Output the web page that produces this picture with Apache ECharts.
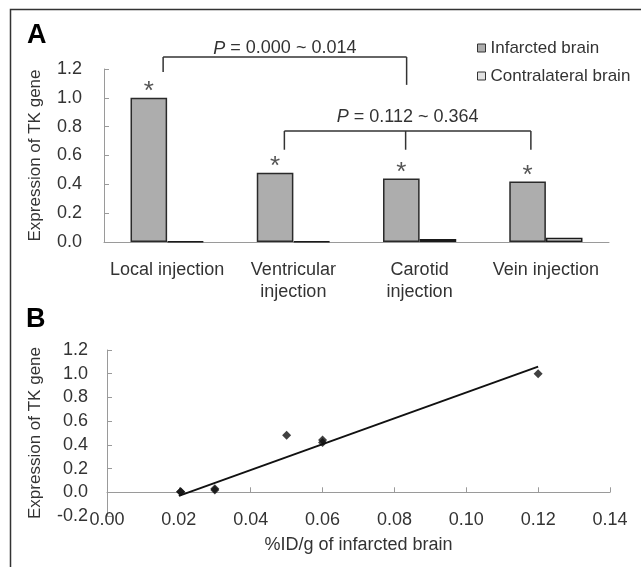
<!DOCTYPE html>
<html>
<head>
<meta charset="utf-8">
<script src="https://cdn.jsdelivr.net/npm/echarts@6/dist/echarts.min.js"></script>
<style>
html,body{margin:0;padding:0;background:#fff;}
#c{width:641px;height:567px;}
</style>
</head>
<body>
<div id="c"></div>
<script>
// ---- data ----
const categories = ['Local injection', 'Ventricular\ninjection', 'Carotid\ninjection', 'Vein injection'];
const infarcted = [1.0, 0.48, 0.44, 0.42];
const contralateral = [0.005, 0.005, 0.02, 0.03];
const scatterX = [0.0205, 0.0205, 0.03, 0.03, 0.05, 0.06, 0.06, 0.12];
const scatterY = [0.005, 0.005, 0.02, 0.03, 0.48, 0.44, 0.42, 1.0];
const trendX = [0.02, 0.12];
const trendY = [-0.03, 1.06];
const pText1 = '0.000 ~ 0.014';
const pText2 = '0.112 ~ 0.364';

const FONT = 'Liberation Sans, Arial, sans-serif';
const TXT = '#333';
const AX = '#9a9a9a';

const chart = echarts.init(document.getElementById('c'), null, {renderer: 'canvas'});

const option = {
  animation: false,
  textStyle: {fontFamily: FONT},
  grid: [
    {left: 104, top: 69, width: 505, height: 173},
    {left: 107, top: 350, width: 503, height: 166}
  ],
  legend: {
    left: 477, top: 38, orient: 'vertical', padding: 0,
    icon: 'rect', itemWidth: 8, itemHeight: 8, itemGap: 8,
    textStyle: {fontSize: 17, color: TXT, lineHeight: 20, fontFamily: FONT},
    itemStyle: {borderColor: '#333', borderWidth: 1},
    data: ['Infarcted brain', 'Contralateral brain']
  },
  xAxis: [
    {
      gridIndex: 0, type: 'category', data: categories,
      axisLine: {lineStyle: {color: AX, width: 1}},
      axisTick: {inside: true, length: 5, lineStyle: {color: AX}},
      axisLabel: {fontSize: 18, color: TXT, margin: 17, lineHeight: 22, interval: 0, fontFamily: FONT}
    },
    {
      gridIndex: 1, type: 'value', min: 0, max: 0.14, interval: 0.02,
      position: 'bottom',
      axisLine: {show: false, onZero: false},
      axisTick: {show: false},
      splitLine: {show: false},
      axisLabel: {fontSize: 18, color: TXT, margin: -5, fontFamily: FONT,
        formatter: v => v.toFixed(2)},
      name: '%ID/g of infarcted brain', nameLocation: 'middle', nameGap: 20,
      nameTextStyle: {fontSize: 18, color: TXT, fontFamily: FONT}
    },
    {
      gridIndex: 1, type: 'value', min: 0, max: 0.14, interval: 0.02,
      position: 'bottom',
      axisLine: {show: true, onZero: true, onZeroAxisIndex: 1, lineStyle: {color: AX, width: 1}},
      axisTick: {show: true, inside: true, length: 5, lineStyle: {color: AX}},
      axisLabel: {show: false},
      splitLine: {show: false}
    }
  ],
  yAxis: [
    {
      gridIndex: 0, type: 'value', min: 0, max: 1.2, interval: 0.2,
      axisLine: {show: true, lineStyle: {color: AX, width: 1}},
      axisTick: {show: true, inside: true, length: 5, lineStyle: {color: AX}},
      splitLine: {show: false},
      axisLabel: {fontSize: 18, color: TXT, margin: 22, fontFamily: FONT, formatter: v => v.toFixed(1)},
      name: 'Expression of TK gene', nameLocation: 'middle', nameGap: 60, nameRotate: 90,
      nameTextStyle: {fontSize: 17, color: TXT, fontFamily: FONT}
    },
    {
      gridIndex: 1, type: 'value', min: -0.2, max: 1.2, interval: 0.2,
      axisLine: {show: true, onZero: false, lineStyle: {color: AX, width: 1}},
      axisTick: {show: true, inside: true, length: 5, lineStyle: {color: AX}},
      splitLine: {show: false},
      axisLabel: {fontSize: 18, color: TXT, margin: 19, fontFamily: FONT, formatter: v => v.toFixed(1)},
      name: 'Expression of TK gene', nameLocation: 'middle', nameGap: 63, nameRotate: 90,
      nameTextStyle: {fontSize: 17, color: TXT, fontFamily: FONT}
    }
  ],
  series: [
    {
      name: 'Infarcted brain', type: 'bar', xAxisIndex: 0, yAxisIndex: 0,
      data: infarcted, barGap: '0%', barCategoryGap: '42%',
      itemStyle: {color: '#adadad', borderColor: '#2a2a2a', borderWidth: 1.5},
      label: {show: true, position: 'top', formatter: '*', fontSize: 26, color: '#555', distance: -7, fontFamily: FONT}
    },
    {
      name: 'Contralateral brain', type: 'bar', xAxisIndex: 0, yAxisIndex: 0,
      data: contralateral, barGap: '0%', barCategoryGap: '42%',
      itemStyle: {color: '#e2e2e2', borderColor: '#1a1a1a', borderWidth: 1.5}
    },
    {
      name: 'points', type: 'scatter', xAxisIndex: 1, yAxisIndex: 1,
      data: scatterX.map((x, i) => [x, scatterY[i]]),
      symbol: 'diamond', symbolSize: 9,
      itemStyle: {color: '#111'}
    },
    {
      name: 'trend', type: 'line', xAxisIndex: 1, yAxisIndex: 1,
      data: trendX.map((x, i) => [x, trendY[i]]),
      symbol: 'none', lineStyle: {color: '#111', width: 2}
    }
  ]
};
chart.setOption(option);

// ---- annotations (brackets, P values, panel letters, frame) ----
function px(cat, val) { return chart.convertToPixel({xAxisIndex: 0, yAxisIndex: 0}, [cat, val]); }
const brackets = [
  {cats: [0, 2], dx: [-4, -13], feet: [1.18, 1.09], top: 1.283, label: pText1, labelY: 1.342},
  {cats: [1, 2, 3], dx: [-9, -14, -15], feet: [0.64, 0.64, 0.64], top: 0.77, label: pText2, labelY: 0.869}
];
const g = [];
brackets.forEach(b => {
  const xs = b.cats.map((c, i) => px(c, 0)[0] + b.dx[i]);
  const yTop = px(0, b.top)[1];
  const first = xs[0], last = xs[xs.length - 1];
  g.push({type: 'line', shape: {x1: first, y1: yTop, x2: last, y2: yTop}, style: {stroke: '#333', lineWidth: 1.5}});
  xs.forEach((x, i) => {
    g.push({type: 'line', shape: {x1: x, y1: yTop, x2: x, y2: px(0, b.feet[i])[1]}, style: {stroke: '#333', lineWidth: 1.5}});
  });
  g.push({type: 'text', x: (first + last) / 2, y: px(0, b.labelY)[1],
    style: {text: '{i|P} = ' + b.label, rich: {i: {fontStyle: 'italic', fontSize: 18, fill: TXT, fontFamily: FONT}},
      fontSize: 18, fill: TXT, fontFamily: FONT, align: 'center', verticalAlign: 'middle'}});
});
g.push({type: 'text', left: 27, top: 22, style: {text: 'A', fontSize: 27, fontWeight: 'bold', fill: '#000', fontFamily: FONT}});
g.push({type: 'text', left: 26, top: 306, style: {text: 'B', fontSize: 27, fontWeight: 'bold', fill: '#000', fontFamily: FONT}});
g.push({type: 'polyline', shape: {points: [[10.5, 567], [10.5, 9.5], [641, 9.5]]}, style: {stroke: '#333', lineWidth: 1.5, fill: null}});
chart.setOption({graphic: g});
</script>
</body>
</html>
